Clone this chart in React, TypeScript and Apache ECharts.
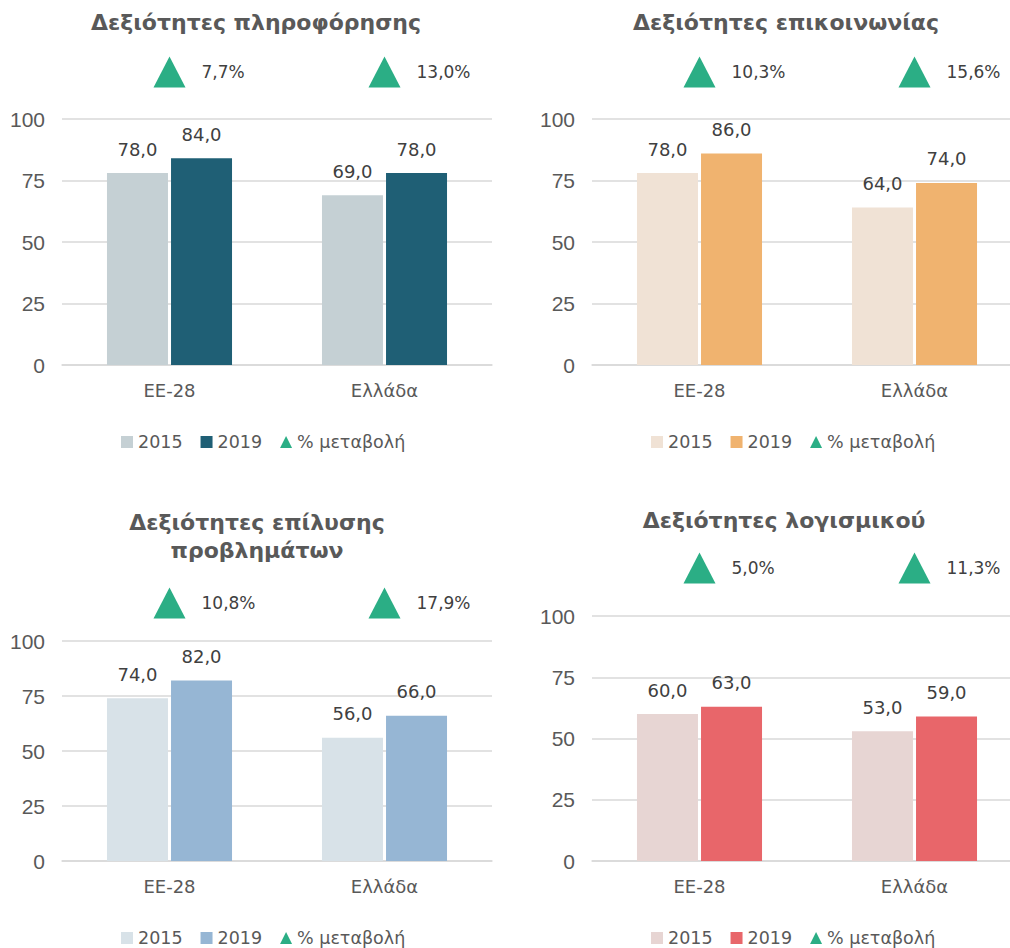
import React, { useEffect, useRef } from "react";
import * as echarts from "echarts";

const categories = ["ΕΕ-28", "Ελλάδα"];
const seriesNames = ["2015", "2019", "% μεταβολή"];

const titles = [
  "Δεξιότητες πληροφόρησης",
  "Δεξιότητες επικοινωνίας",
  "Δεξιότητες επίλυσης\nπροβλημάτων",
  "Δεξιότητες λογισμικού",
];

const info2015 = [78, 69];
const info2019 = [84, 78];
const infoPct = [7.7, 13.0];

const comm2015 = [78, 64];
const comm2019 = [86, 74];
const commPct = [10.3, 15.6];

const prob2015 = [74, 56];
const prob2019 = [82, 66];
const probPct = [10.8, 17.9];

const soft2015 = [60, 53];
const soft2019 = [63, 59];
const softPct = [5.0, 11.3];

const yTicks = [0, 25, 50, 75, 100];

const FONT = "DejaVu Sans";
const AXFONT = "Liberation Sans";
const TEXT = "#404040";
const GREY = "#595959";
const GRID = "#d9d9d9";
const TRI = "#2BAE85";

type PanelCfg = {
  x: number;
  y: number;
  w: number;
  title: string;
  titleX: number;
  titleY: number;
  v2015: number[];
  v2019: number[];
  pct: number[];
  c2015: string;
  c2019: string;
  gridLeft: number;
  gridTop: number;
  gridHeight: number;
  triY: number;
  legendLeft: number;
  legendY: number;
};

const panels: PanelCfg[] = [
  {
    x: 0, y: 0, w: 505, title: titles[0], titleX: 256, titleY: 22,
    v2015: info2015, v2019: info2019, pct: infoPct,
    c2015: "#C5D0D4", c2019: "#1F5F75",
    gridLeft: 62, gridTop: 119, gridHeight: 246, triY: 72, legendLeft: 116, legendY: 437,
  },
  {
    x: 505, y: 0, w: 530, title: titles[1], titleX: 281, titleY: 22,
    v2015: comm2015, v2019: comm2019, pct: commPct,
    c2015: "#F0E2D5", c2019: "#F0B36F",
    gridLeft: 87, gridTop: 119, gridHeight: 246, triY: 72, legendLeft: 141, legendY: 437,
  },
  {
    x: 0, y: 474, w: 505, title: titles[2], titleX: 257, titleY: 62,
    v2015: prob2015, v2019: prob2019, pct: probPct,
    c2015: "#D8E2E8", c2019: "#96B6D4",
    gridLeft: 62, gridTop: 167, gridHeight: 220, triY: 129, legendLeft: 116, legendY: 459,
  },
  {
    x: 505, y: 474, w: 530, title: titles[3], titleX: 279, titleY: 46,
    v2015: soft2015, v2019: soft2019, pct: softPct,
    c2015: "#E7D5D3", c2019: "#E8666A",
    gridLeft: 87, gridTop: 142, gridHeight: 245, triY: 94, legendLeft: 141, legendY: 459,
  },
];

const fmt1 = (v: number) => v.toFixed(1).replace(".", ",");

function buildOption(p: PanelCfg) {
  const barLabel = {
    show: true,
    position: "top",
    distance: 15,
    fontFamily: FONT,
    fontSize: 18,
    color: TEXT,
    formatter: (d: any) => fmt1(d.value),
  };
  return {
    animation: false,
    graphic: [
      {
        type: "text",
        x: p.titleX,
        y: p.titleY,
        style: {
          text: p.title,
          textAlign: "center",
          textVerticalAlign: "middle",
          fontFamily: FONT,
          fontWeight: "bold",
          fontSize: 22,
          lineHeight: 28,
          fill: GREY,
        },
      },
    ],
    legend: {
      left: p.legendLeft,
      top: p.legendY - 9,
      itemWidth: 12,
      itemHeight: 12,
      itemGap: 18,
      textStyle: { fontFamily: FONT, fontSize: 17.5, color: GREY },
      data: [
        { name: seriesNames[0], icon: "rect" },
        { name: seriesNames[1], icon: "rect" },
        { name: seriesNames[2], icon: "triangle" },
      ],
    },
    grid: [
      { left: p.gridLeft, top: p.gridTop, width: 430, height: p.gridHeight },
      { left: p.gridLeft, top: p.triY - 16, width: 430, height: 32 },
    ],
    xAxis: [
      {
        gridIndex: 0,
        type: "category",
        data: categories,
        axisLine: { lineStyle: { color: GRID, width: 1.5 } },
        axisTick: { show: false },
        axisLabel: { fontFamily: FONT, fontSize: 18, color: GREY, margin: 16 },
      },
      { gridIndex: 1, type: "category", data: categories, show: false },
    ],
    yAxis: [
      {
        gridIndex: 0,
        type: "value",
        min: yTicks[0],
        max: yTicks[yTicks.length - 1],
        interval: 25,
        axisLine: { show: false },
        axisTick: { show: false },
        axisLabel: { fontFamily: AXFONT, fontSize: 21, color: GREY, margin: 17 },
        splitLine: { lineStyle: { color: GRID, width: 1.5 } },
      },
      { gridIndex: 1, type: "value", min: 0, max: 1, show: false },
    ],
    series: [
      {
        name: seriesNames[0],
        type: "bar",
        data: p.v2015,
        barWidth: 61,
        barGap: "5%",
        itemStyle: { color: p.c2015 },
        label: barLabel,
      },
      {
        name: seriesNames[1],
        type: "bar",
        data: p.v2019,
        barWidth: 61,
        barGap: "5%",
        itemStyle: { color: p.c2019 },
        label: barLabel,
      },
      {
        name: seriesNames[2],
        type: "scatter",
        xAxisIndex: 1,
        yAxisIndex: 1,
        symbol: "triangle",
        symbolSize: [32, 31],
        itemStyle: { color: TRI, opacity: 1 },
        data: p.pct.map((v, i) => [categories[i], 0.5, v]),
        label: {
          show: true,
          position: "right",
          distance: 16,
          fontFamily: FONT,
          fontSize: 17,
          color: TEXT,
          formatter: (d: any) => fmt1(d.value[2]) + "%",
        },
      },
    ],
  };
}

function Panel({ cfg }: { cfg: PanelCfg }) {
  const ref = useRef<HTMLDivElement>(null);
  useEffect(() => {
    if (!ref.current) return;
    const chart = echarts.init(ref.current, null, { renderer: "svg" });
    chart.setOption(buildOption(cfg) as any);
    return () => chart.dispose();
  }, [cfg]);
  return (
    <div
      ref={ref}
      style={{ position: "absolute", left: cfg.x, top: cfg.y, width: cfg.w, height: 474 }}
    />
  );
}

export default function App() {
  return (
    <div
      style={{
        position: "absolute",
        left: 0,
        top: 0,
        width: 1010,
        height: 948,
        background: "#ffffff",
        overflow: "hidden",
      }}
    >
      {panels.map((p, i) => (
        <Panel key={i} cfg={p} />
      ))}
    </div>
  );
}
